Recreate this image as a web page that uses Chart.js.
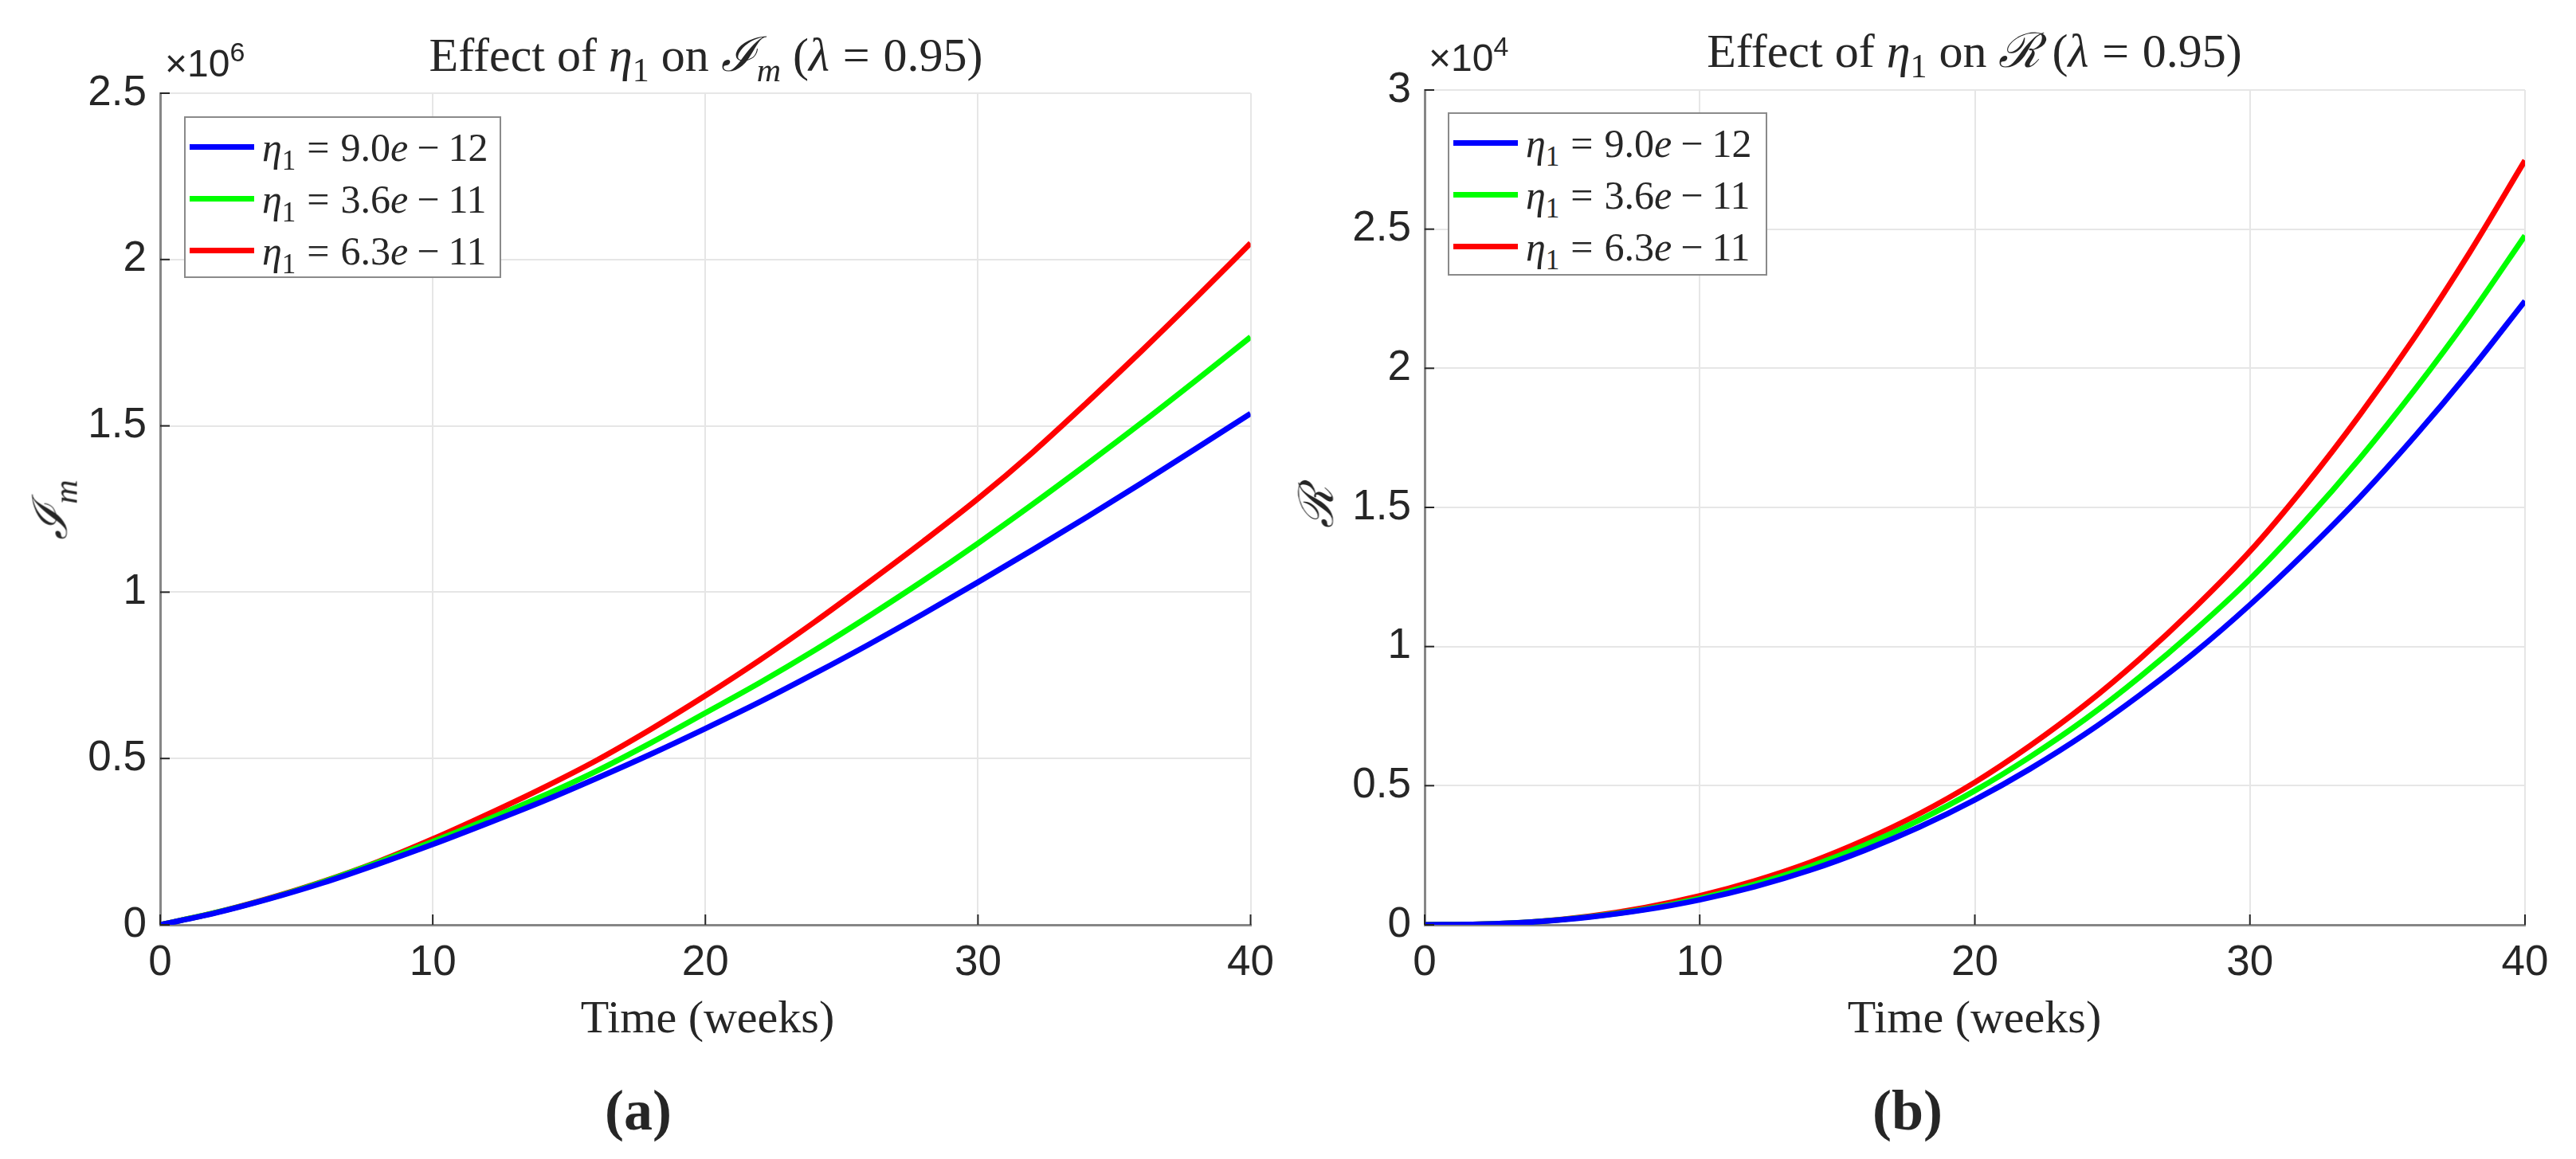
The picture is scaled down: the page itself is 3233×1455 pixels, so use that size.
<!DOCTYPE html>
<html>
<head>
<meta charset="utf-8">
<title>Effect of eta1</title>
<script src="https://cdn.jsdelivr.net/npm/chart.js@4.4.1/dist/chart.umd.min.js"></script>
<style>
html, body { margin: 0; padding: 0; background: #fff; }
#page { position: relative; width: 3233px; height: 1455px; overflow: hidden; color: #262626;
  font-family: "Liberation Serif", "Times New Roman", "DejaVu Serif", serif; }
.panel { position: absolute; top: 0; height: 1455px; }
.txt { position: absolute; white-space: nowrap; line-height: 1; }
.center { transform: translateX(-50%); }
.title { font-size: 60px; }
.xlab { font-size: 58px; }
.cap { font-size: 72px; font-weight: bold; }
.ylab { font-size: 60px; transform: translate(-50%, -50%) rotate(-90deg); }
.expo { font-family: "Liberation Sans", Arial, sans-serif; font-size: 48px; }
.expo sup { font-size: 34px; vertical-align: 0.55em; line-height: 0; }
sub { font-size: 0.7em; vertical-align: -0.3em; line-height: 0; }
.op { margin: 0 0.28em; }
.scr { font-family: "DejaVu Serif", serif; font-style: italic; }
.legend { position: absolute; border: 2px solid #8a8a8a; background: #fff; box-sizing: border-box; padding-top: 4px; }
.legend .row { height: 65px; display: flex; align-items: center; font-size: 50px; }
.legend .swatch { width: 81px; height: 7px; margin-left: 5px; margin-right: 10px; flex: none; }
</style>
</head>
<body>
<div id="page">
  <div class="panel" style="left:0;width:1616px"><canvas id="chartA"></canvas></div>
  <div class="panel" style="left:1616px;width:1617px"><canvas id="chartB"></canvas></div>

  <div class="txt title center" style="left:886px;top:38px">Effect of <i>η</i><sub>1</sub> on <span class="scr">ℐ</span><sub><i>m</i></sub> (<i>λ</i><span class="op">=</span>0.95)</div>
  <div class="txt title center" style="left:2478px;top:33px">Effect of <i>η</i><sub>1</sub> on <span class="scr">ℛ</span> (<i>λ</i><span class="op">=</span>0.95)</div>

  <div class="txt expo" style="left:207px;top:56px">×10<sup>6</sup></div>
  <div class="txt expo" style="left:1793px;top:49px">×10<sup>4</sup></div>

  <div class="txt ylab" style="left:63px;top:640px"><span class="scr">ℐ</span><sub><i>m</i></sub></div>
  <div class="txt ylab" style="left:1652px;top:637px"><span class="scr">ℛ</span></div>

  <div class="txt xlab center" style="left:888px;top:1248px">Time (weeks)</div>
  <div class="txt xlab center" style="left:2478px;top:1248px">Time (weeks)</div>

  <div class="txt cap center" style="left:801px;top:1358px">(a)</div>
  <div class="txt cap center" style="left:2394px;top:1358px">(b)</div>

  <div class="legend" id="legendA" style="left:231px;top:146px;width:398px;height:203px"></div>
  <div class="legend" id="legendB" style="left:1817px;top:141px;width:401px;height:205px"></div>
</div>

<script>
// time axis (weeks)
const weeks = [0, 2, 4, 6, 8, 10, 12, 14, 16, 18, 20, 22, 24, 26, 28, 30, 32, 34, 36, 38, 40];
const xTicks = [0, 10, 20, 30, 40];

// eta_1 values, one per curve
const etaMant = ['9.0', '3.6', '6.3'];
const etaExp = ['12', '11', '11'];
const lineColors = ['#0000ff', '#00ff00', '#ff0000'];

// (a) I_m, in units of 10^6
const imBlue  = [0, 0.035, 0.078, 0.127, 0.183, 0.242, 0.305, 0.370, 0.440, 0.513, 0.590, 0.670, 0.755, 0.843, 0.935, 1.030, 1.127, 1.226, 1.328, 1.432, 1.537];
const imGreen = [0, 0.036, 0.079, 0.130, 0.188, 0.250, 0.316, 0.386, 0.462, 0.547, 0.637, 0.728, 0.825, 0.928, 1.035, 1.147, 1.264, 1.385, 1.509, 1.637, 1.767];
const imRed   = [0, 0.036, 0.080, 0.131, 0.190, 0.258, 0.332, 0.410, 0.494, 0.588, 0.689, 0.796, 0.910, 1.030, 1.153, 1.281, 1.420, 1.570, 1.725, 1.885, 2.049];
const imTicks = [0, 0.5, 1, 1.5, 2, 2.5];

// (b) R, in units of 10^4
const rBlue  = [0, 0.002, 0.011, 0.028, 0.054, 0.090, 0.137, 0.196, 0.268, 0.352, 0.449, 0.560, 0.685, 0.826, 0.979, 1.150, 1.337, 1.537, 1.756, 1.991, 2.242];
const rGreen = [0, 0.002, 0.011, 0.029, 0.056, 0.095, 0.146, 0.209, 0.286, 0.377, 0.482, 0.603, 0.738, 0.891, 1.059, 1.242, 1.450, 1.677, 1.924, 2.190, 2.477];
const rRed   = [0, 0.002, 0.011, 0.031, 0.062, 0.104, 0.158, 0.224, 0.305, 0.400, 0.512, 0.643, 0.790, 0.956, 1.140, 1.342, 1.576, 1.833, 2.113, 2.418, 2.747];
const rTicks = [0, 0.5, 1, 1.5, 2, 2.5, 3];

const tickFont = { family: '"Liberation Sans", Arial, sans-serif', size: 53 };

// matlab style ticks pointing into the plot
const innerTicks = {
  id: 'innerTicks',
  afterDatasetsDraw(chart) {
    const { ctx, chartArea, scales } = chart;
    ctx.save();
    ctx.strokeStyle = '#262626';
    ctx.lineWidth = 2;
    scales.x.ticks.forEach(t => {
      const px = scales.x.getPixelForValue(t.value);
      ctx.beginPath(); ctx.moveTo(px, chartArea.bottom); ctx.lineTo(px, chartArea.bottom - 13); ctx.stroke();
    });
    scales.y.ticks.forEach(t => {
      const py = scales.y.getPixelForValue(t.value);
      ctx.beginPath(); ctx.moveTo(chartArea.left, py); ctx.lineTo(chartArea.left + 12, py); ctx.stroke();
    });
    ctx.restore();
  }
};

function lineSet(i, values) {
  return {
    label: 'η1 = ' + etaMant[i] + 'e − ' + etaExp[i],
    data: weeks.map((w, k) => ({ x: w, y: values[k] })),
    borderColor: lineColors[i],
    backgroundColor: lineColors[i],
    borderWidth: 7,
    pointRadius: 0,
    cubicInterpolationMode: 'monotone',
    fill: false
  };
}

function makeChart(id, series, yTicks, yAxisWidth, pad) {
  return new Chart(document.getElementById(id), {
    type: 'line',
    data: { datasets: series.map((s, i) => lineSet(i, s)) },
    options: {
      responsive: true,
      maintainAspectRatio: false,
      animation: false,
      layout: { padding: pad },
      plugins: { legend: { display: false }, tooltip: { enabled: false } },
      scales: {
        x: {
          type: 'linear',
          min: xTicks[0], max: xTicks[xTicks.length - 1],
          afterBuildTicks: s => { s.ticks = xTicks.map(v => ({ value: v })); },
          afterFit: s => { s.height = 100; },
          grid: { color: '#e6e6e6', lineWidth: 2, drawTicks: false },
          border: { color: '#868686', width: 3 },
          ticks: { font: tickFont, color: '#262626', padding: 17, maxRotation: 0, callback: v => String(v) }
        },
        y: {
          min: yTicks[0], max: yTicks[yTicks.length - 1],
          afterBuildTicks: s => { s.ticks = yTicks.map(v => ({ value: v })); },
          afterFit: s => { s.width = yAxisWidth; },
          grid: { color: '#e6e6e6', lineWidth: 2, drawTicks: false },
          border: { color: '#868686', width: 3 },
          ticks: { font: tickFont, color: '#262626', padding: 17, callback: v => String(v) }
        }
      }
    },
    plugins: [innerTicks]
  });
}

function buildLegend(chart, el) {
  chart.data.datasets.forEach((ds, i) => {
    const row = document.createElement('div');
    row.className = 'row';
    const sw = document.createElement('div');
    sw.className = 'swatch';
    sw.style.background = ds.borderColor;
    const tx = document.createElement('span');
    tx.innerHTML = '<i>η</i><sub>1</sub><span class="op">=</span>' + etaMant[i] +
      '<i>e</i><span class="op" style="margin:0 0.22em">−</span>' + etaExp[i];
    row.appendChild(sw);
    row.appendChild(tx);
    el.appendChild(row);
  });
}

const chartA = makeChart('chartA', [imBlue, imGreen, imRed], imTicks, 201, { left: 0, top: 117, right: 40, bottom: 194 });
const chartB = makeChart('chartB', [rBlue, rGreen, rRed], rTicks, 172, { left: 0, top: 113, right: 64, bottom: 194 });
buildLegend(chartA, document.getElementById('legendA'));
buildLegend(chartB, document.getElementById('legendB'));
</script>
</body>
</html>
